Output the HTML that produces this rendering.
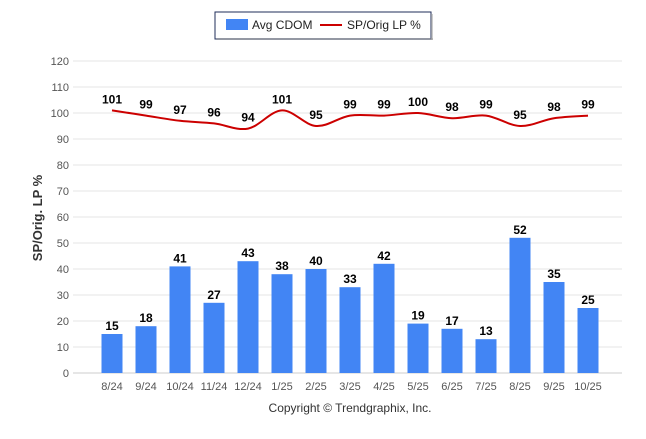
<!DOCTYPE html>
<html><head><meta charset="utf-8"><style>
body{margin:0;background:#fff;font-family:"Liberation Sans",Arial,sans-serif}
</style></head><body>
<svg id="c" width="646" height="434" xmlns="http://www.w3.org/2000/svg">
<g>
<rect x="215" y="12" width="216" height="27" fill="#fff" stroke="#1f2d5a" stroke-width="1"/>
<rect x="217" y="38" width="216" height="2" fill="#999" opacity="0.5"/>
<rect x="431" y="14" width="2" height="26" fill="#999" opacity="0.5"/>
<rect x="226" y="19" width="22" height="11" fill="#4285f4"/>
<text x="252" y="29" font-size="12" fill="#222">Avg CDOM</text>
<line x1="320" y1="25" x2="342" y2="25" stroke="#cc0000" stroke-width="2"/>
<text x="347" y="29" font-size="12" fill="#222">SP/Orig LP %</text>
</g>
<text transform="translate(42,218) rotate(-90)" text-anchor="middle" font-size="13" font-weight="bold" fill="#333">SP/Orig. LP %</text>
<text x="350" y="412" text-anchor="middle" font-size="12" fill="#333">Copyright © Trendgraphix, Inc.</text>
<g id="grid"></g><g id="bars"></g><g id="line"></g><g id="labels"></g>
</svg>
<script>
const categories=["8/24","9/24","10/24","11/24","12/24","1/25","2/25","3/25","4/25","5/25","6/25","7/25","8/25","9/25","10/25"];
const cdom=[15,18,41,27,43,38,40,33,42,19,17,13,52,35,25];
const sp=[101,99,97,96,94,101,95,99,99,100,98,99,95,98,99];
const yTicks=[0,10,20,30,40,50,60,70,80,90,100,110,120];
const NS="http://www.w3.org/2000/svg";
const y=v=>373-v*2.6;
const x=i=>112+i*34;
function mk(p,t,a,txt){const e=document.createElementNS(NS,t);for(const k in a)e.setAttribute(k,a[k]);if(txt!==undefined)e.textContent=txt;document.getElementById(p).appendChild(e);return e;}
yTicks.forEach(v=>{
 const l=mk('grid','line',{x1:73,x2:622,y1:y(v),y2:y(v),stroke:v===0?'#ccc':'#e6e6e6','stroke-width':1});
 
 
 const t=mk('grid','text',{x:69,y:y(v)+4,'text-anchor':'end','font-size':11,fill:'#555'},v);
 
 
});
categories.forEach((c,i)=>{
 const t=mk('grid','text',{x:x(i),y:390,'text-anchor':'middle','font-size':11,fill:'#555'},c);
 
 
 const b=mk('bars','rect',{x:x(i)-10.5,y:y(cdom[i]),width:21,height:y(0)-y(cdom[i]),fill:'#4285f4'});
 
 
 const bl=mk('labels','text',{x:x(i),y:y(cdom[i])-4,'text-anchor':'middle','font-size':12,'font-weight':'bold',fill:'#000'},cdom[i]);
 
 
 const pl=mk('labels','text',{x:x(i),y:y(sp[i])-7,'text-anchor':'middle','font-size':12,'font-weight':'bold',fill:'#000'},sp[i]);
 
 
});
// smooth line (catmull-rom)
const pts=sp.map((v,i)=>[x(i),y(v)]);
let d='M'+pts[0][0]+','+pts[0][1];
for(let i=0;i<pts.length-1;i++){const p0=pts[Math.max(0,i-1)],p1=pts[i],p2=pts[i+1],p3=pts[Math.min(pts.length-1,i+2)];
 d+=` C${p1[0]+(p2[0]-p0[0])/6},${p1[1]+(p2[1]-p0[1])/6} ${p2[0]-(p3[0]-p1[0])/6},${p2[1]-(p3[1]-p1[1])/6} ${p2[0]},${p2[1]}`;}
const ln=mk('line','path',{d:d,fill:'none',stroke:'#cc0000','stroke-width':2});


</script>
</body></html>
